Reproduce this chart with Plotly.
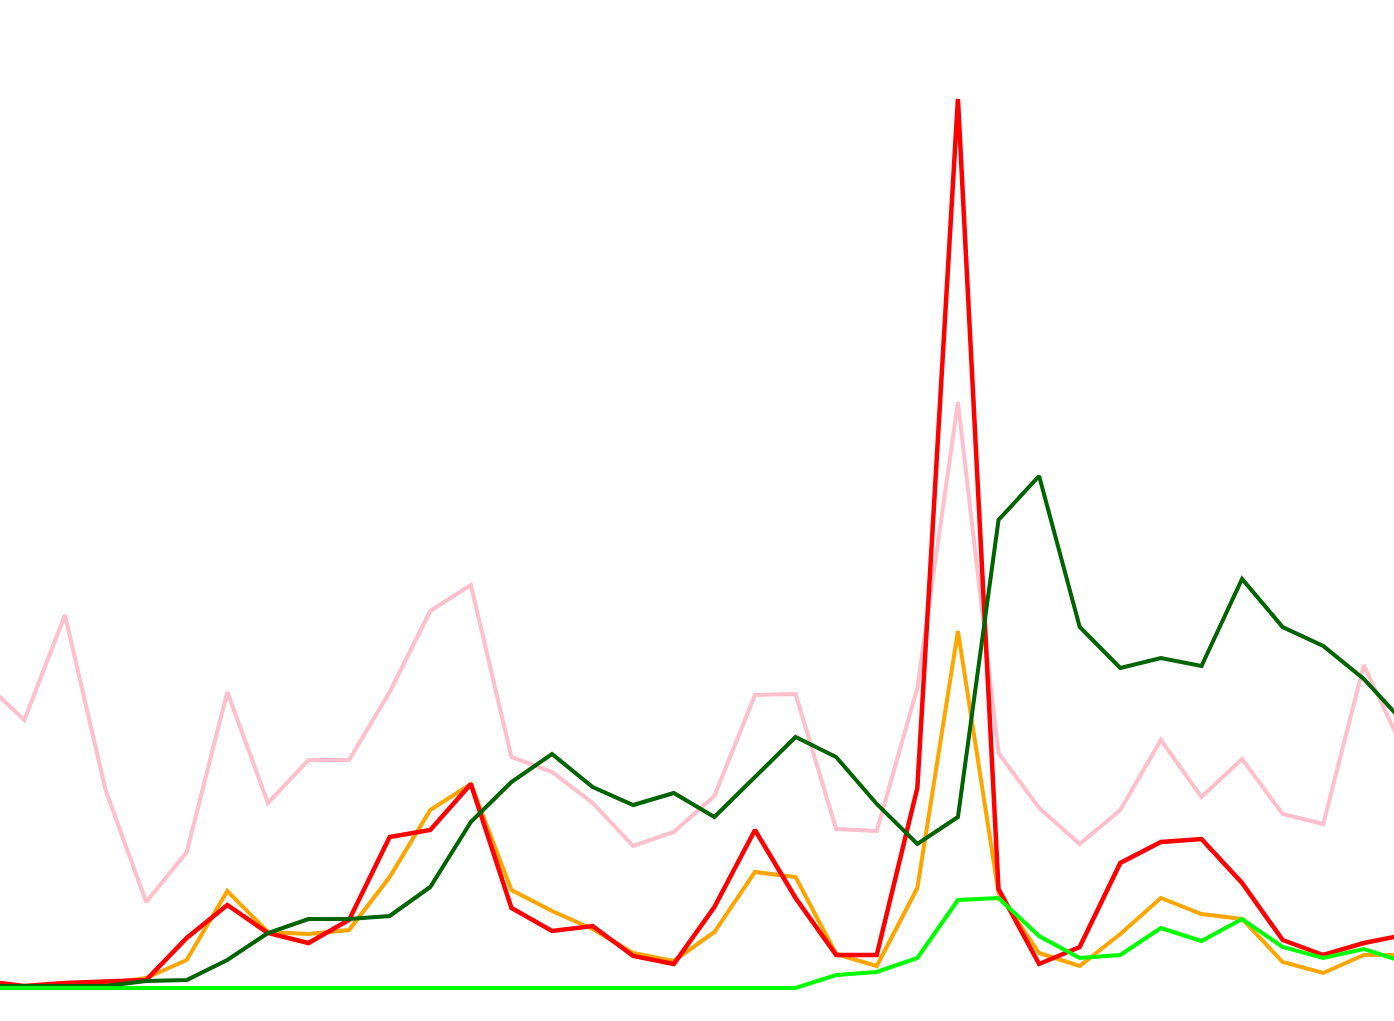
import plotly.graph_objects as go

# index of each sample (time step)
steps = list(range(36))

pink = [306, 268, 373, 198, 86, 136, 296, 185, 228, 228, 296, 377, 403, 231, 216, 185, 142, 156,
        192, 293, 294, 159, 157, 300, 586, 235, 180, 144, 178, 248, 191, 229, 174, 164, 323, 236]
dark_green = [2, 2, 2, 2, 7, 8, 28, 55, 69, 69, 72, 101, 166, 206, 234, 201, 183, 195,
              171, 211, 251, 231, 184, 144, 171, 468, 512, 361, 320, 330, 322, 409, 361, 342, 309, 265]
red = [7, 2, 5, 6, 8, 50, 83, 55, 45, 68, 151, 158, 204, 80, 57, 62, 32, 24,
       81, 158, 90, 33, 33, 200, 889, 99, 24, 41, 125, 146, 149, 105, 48, 33, 45, 53]
orange = [2, 2, 2, 4, 10, 28, 97, 56, 54, 58, 111, 178, 204, 98, 77, 59, 35, 27,
          56, 116, 111, 34, 22, 100, 357, 95, 35, 22, 54, 90, 74, 69, 26, 15, 33, 33]
lime = [0, 0, 0, 0, 0, 0, 0, 0, 0, 0, 0, 0, 0, 0, 0, 0, 0, 0,
        0, 0, 0, 13, 16, 30, 88, 90, 52, 30, 33, 60, 47, 69, 41, 30, 39, 26]

series = [
    ("pink", pink, "#FFC0CB", 4),
    ("orange", orange, "#FFA500", 4),
    ("red", red, "#FF0000", 4.5),
    ("darkgreen", dark_green, "#006400", 4),
    ("lime", lime, "#00FF00", 4),
]

fig = go.Figure()
for name, vals, color, w in series:
    fig.add_trace(go.Scatter(x=steps, y=vals, mode="lines", name=name,
                             line=dict(color=color, width=w)))

fig.update_layout(
    width=1394, height=1021,
    margin=dict(l=0, r=0, t=0, b=0),
    paper_bgcolor="white", plot_bgcolor="white",
    showlegend=False,
    xaxis=dict(visible=False, range=[0.40, 34.743]),
    yaxis=dict(visible=False, range=[-33, 988]),
)

fig.write_html("out.html", config={"displayModeBar": False},
               post_script="document.body.style.margin='0';document.body.style.overflow='hidden';")
